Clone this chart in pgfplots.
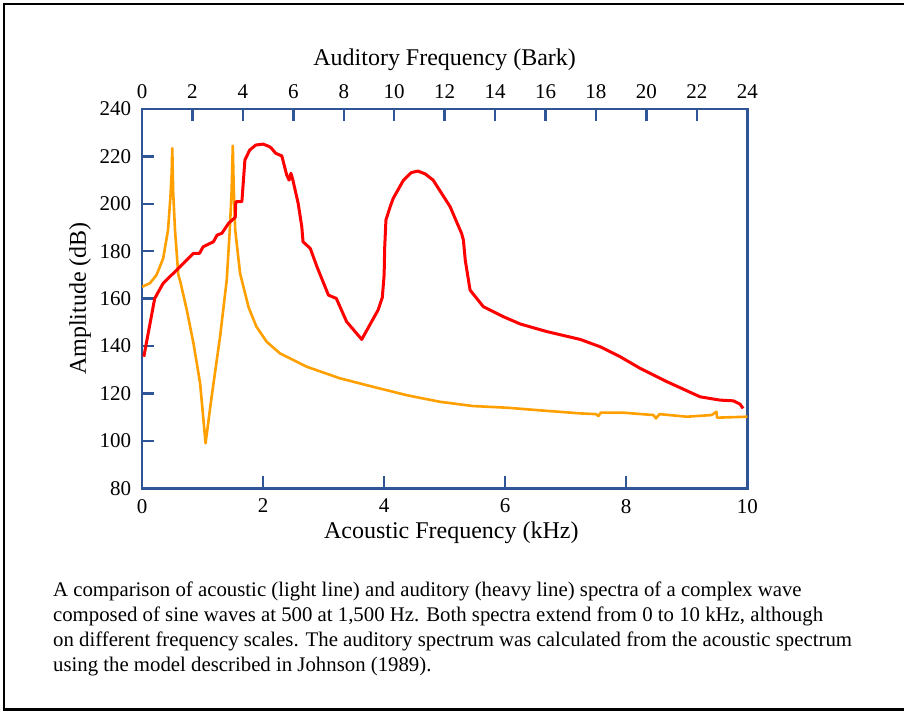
\documentclass[border=0pt]{standalone}
\usepackage{fontspec}
\setmainfont{Liberation Serif}
\usepackage{pgfplots}
\pgfplotsset{compat=1.18}
\definecolor{axblue}{RGB}{47,85,151}
\definecolor{specred}{RGB}{255,0,0}
\definecolor{specorange}{RGB}{255,160,0}
\begin{document}
\begin{tikzpicture}
\useasboundingbox (0,0) rectangle (452pt,-356pt);
\draw[line width=1.2pt] (453pt,-2pt) -- (2pt,-2pt) -- (2pt,-354.75pt) -- (453pt,-354.75pt);
\begin{axis}[
  at={(71pt,-244.15pt)}, anchor=south west,
  width=302.65pt, height=189.65pt, scale only axis,
  xmin=0, xmax=10, ymin=80, ymax=240,
  xtick={0,2,...,10}, ytick={80,100,...,240},
  xtick pos=bottom, ytick pos=left,
  tick align=inside, major tick length=6pt,
  axis line style={axblue, line width=1.2pt},
  tick style={axblue, line width=1.2pt},
  tick label style={font=\fontsize{10.5}{12}\selectfont},
  /pgf/number format/assume math mode=true,
  xticklabel style={yshift=-1.85pt},
  yticklabel style={xshift=-1.85pt},
  xlabel={Acoustic Frequency (kHz)},
  ylabel={Amplitude (dB)},
  label style={font=\fontsize{12}{14}\selectfont},
  xlabel style={at={(axis description cs:0.511,-0.118)}, anchor=center},
  ylabel style={at={(axis description cs:-0.1024,0.5)}, anchor=center},
]
\addplot[specorange, line width=1.3pt, line join=round] coordinates {
(0,165.0) (0.13,166.5) (0.24,170.0) (0.35,177.0) (0.43,189.0) (0.47,203.0) (0.49,213) (0.50,223.5)
(0.515,205) (0.545,189.0) (0.60,170) (0.63,167.5) (0.74,155.2) (0.85,141.2) (0.96,124.3) (1.05,99.0)
(1.15,118.6) (1.29,144.0) (1.40,167.9) (1.45,189.0) (1.48,205) (1.50,224.5)
(1.515,207) (1.54,189.0) (1.62,170.7) (1.76,156.4) (1.89,148.2) (2.06,141.8) (2.28,136.9)
(2.72,131.3) (3.27,126.4) (3.82,122.8) (4.37,119.3) (4.92,116.5) (5.47,114.7) (6.03,114.0)
(6.52,113.0) (7.24,111.6) (7.50,111.3) (7.54,110.5) (7.58,111.9) (7.95,111.9) (8.45,110.9)
(8.49,109.5) (8.55,111.3) (9.00,110.2) (9.41,110.9) (9.49,112.3) (9.50,109.8) (10.0,110.2)
};
\addplot[specred, line width=1.5pt, line join=round] coordinates {
(0.03,135.5) (0.21,160.1) (0.35,166.5) (0.63,173.5) (0.85,179.1) (0.95,179.1) (1.01,181.9)
(1.18,184.0) (1.24,186.8) (1.32,187.6) (1.43,191.8) (1.54,194.3) (1.55,200.9) (1.65,200.9)
(1.70,218.5) (1.78,222.7) (1.88,224.8) (2.00,225.2) (2.10,224.2) (2.14,223.4) (2.21,221.3) (2.31,220.2)
(2.39,212.2) (2.43,210.0) (2.46,212.9) (2.49,210.3) (2.58,200.2) (2.64,190.3) (2.66,184.0)
(2.78,181.2) (2.89,173.5) (3.08,161.5) (3.21,160.1) (3.38,150.3) (3.63,142.8) (3.90,155.2)
(3.97,160.5) (4.00,170) (4.01,181.9) (4.03,193.2) (4.10,198.8) (4.15,202.3) (4.32,210.0)
(4.45,213.2) (4.56,213.8) (4.68,212.6) (4.81,210.0) (5.09,198.8) (5.28,187.5) (5.31,184.7)
(5.34,176.3) (5.42,163.6) (5.64,156.6) (5.97,152.4) (6.25,149.3) (6.69,146.1) (7.24,142.8)
(7.57,139.7) (7.90,135.5) (8.23,130.6) (8.67,125.0) (9.22,118.6) (9.55,117.2) (9.77,116.9)
(9.88,115.5) (9.93,113.7)
};
\end{axis}
\begin{axis}[
  at={(71pt,-244.15pt)}, anchor=south west,
  width=302.65pt, height=189.65pt, scale only axis,
  xmin=0, xmax=24, ymin=80, ymax=240,
  axis x line=top, axis y line=none,
  xtick={0,2,...,24},
  tick align=inside, major tick length=6pt,
  axis line style={axblue, line width=1.2pt, -},
  tick style={axblue, line width=1.2pt},
  tick label style={font=\fontsize{10.5}{12}\selectfont},
  /pgf/number format/assume math mode=true,
  xticklabel style={yshift=1.85pt},
  xlabel={Auditory Frequency (Bark)},
  label style={font=\fontsize{12}{14}\selectfont},
  xlabel style={at={(axis description cs:0.5,1.129)}, anchor=center},
]
\end{axis}
\fontsize{10.4}{12}\selectfont
\node[anchor=base west, inner sep=0pt] at (26.35pt,-298pt) {A comparison of acoustic (light line) and auditory (heavy line) spectra of a complex wave};
\node[anchor=base west, inner sep=0pt] at (26.35pt,-310.6pt) {composed of sine waves at 500 at 1,500 Hz. Both spectra extend from 0 to 10 kHz, although};
\node[anchor=base west, inner sep=0pt] at (26.35pt,-323.2pt) {on different frequency scales. The auditory spectrum was calculated from the acoustic spectrum};
\node[anchor=base west, inner sep=0pt] at (26.35pt,-335.8pt) {using the model described in Johnson (1989).};
\end{tikzpicture}
\end{document}
